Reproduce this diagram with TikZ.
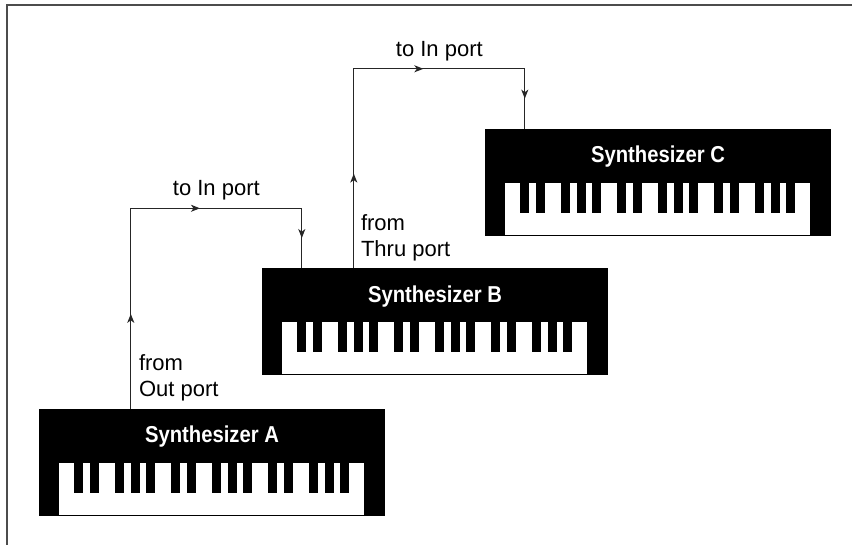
\documentclass[tikz,border=0pt]{standalone}
\usepackage{fontspec}
\setmainfont{Liberation Sans}
\newfontfamily\titlefont[FakeStretch=0.88]{Liberation Sans}
\usetikzlibrary{calc,arrows.meta,decorations.markings}
\tikzset{
    synth-box/.style = {fill=black, rectangle, inner sep=0pt, minimum width=346pt, minimum height=107pt},
    synth-title/.style = {text=white, font=\titlefont\bfseries\fontsize{23}{26}\selectfont, anchor=base, inner sep=0pt},
    midi-link/.style = {draw=black!85, line width=1.3pt, postaction={decorate},
        decoration={markings,
            mark=at position 0.22 with {\arrow{Stealth[length=9pt,width=7pt,inset=2.5pt]}},
            mark=at position 0.625 with {\arrow{Stealth[length=9pt,width=7pt,inset=2.5pt]}},
            mark=at position 0.93 with {\arrow{Stealth[length=9pt,width=7pt,inset=2.5pt]}}}},
    port-label/.style = {font=\fontsize{22}{26}\selectfont, inner sep=0pt, align=left},
}

\begin{document}
\begin{tikzpicture}[x=1pt, y=1pt]
\useasboundingbox (0,0) rectangle (852,545);
\draw[black!70, line width=1.5pt] (852,540) -- (7,540) -- (7,0);

% the three keyboards
\node[synth-box] (synA) at (212,82.5) {};
\node[synth-box] (synB) at (435,223) {};
\node[synth-box] (synC) at (658,362.5) {};
\foreach \s/\t in {synA/A, synB/B, synC/C} {
    \node[synth-title] (title\t) at ($(\s.north)+(0,-34)$) {Synthesizer \t};
    \fill[white] ($(\s.south west)+(20,1.5)$) rectangle ($(\s.north east)+(-21,-54)$);
    \foreach \o in {0,97,194}
        \foreach \k in {0,16,41,56.5,71.5}
            \fill[black] ($(\s.north west)+(35.5+\k+\o,-54)$) rectangle +(9,-30);
}

% ports
\coordinate (outA) at ($(synA.north west)+(92,0)$);
\coordinate (inB) at ($(synB.north west)+(40,0)$);
\coordinate (thruB) at ($(synB.north west)+(92,0)$);
\coordinate (inC) at ($(synC.north west)+(40,0)$);
\coordinate (bendB) at ($(inB)+(0,60)$);
\coordinate (bendC) at ($(inC)+(0,60)$);

\draw[midi-link] (outA) |- node[port-label, pos=0.75, anchor=base, yshift=12.5pt] (toB) {to In port} (bendB) -- (inB);
\draw[midi-link] (thruB) |- node[port-label, pos=0.75, anchor=base, yshift=12.5pt] (toC) {to In port} (bendC) -- (inC);
\node[port-label, anchor=south west] (fromA) at ($(outA)+(8,7.5)$) {from\\Out port};
\node[port-label, anchor=south west] (fromB) at ($(thruB)+(7,7.5)$) {from\\Thru port};
\end{tikzpicture}
\end{document}
